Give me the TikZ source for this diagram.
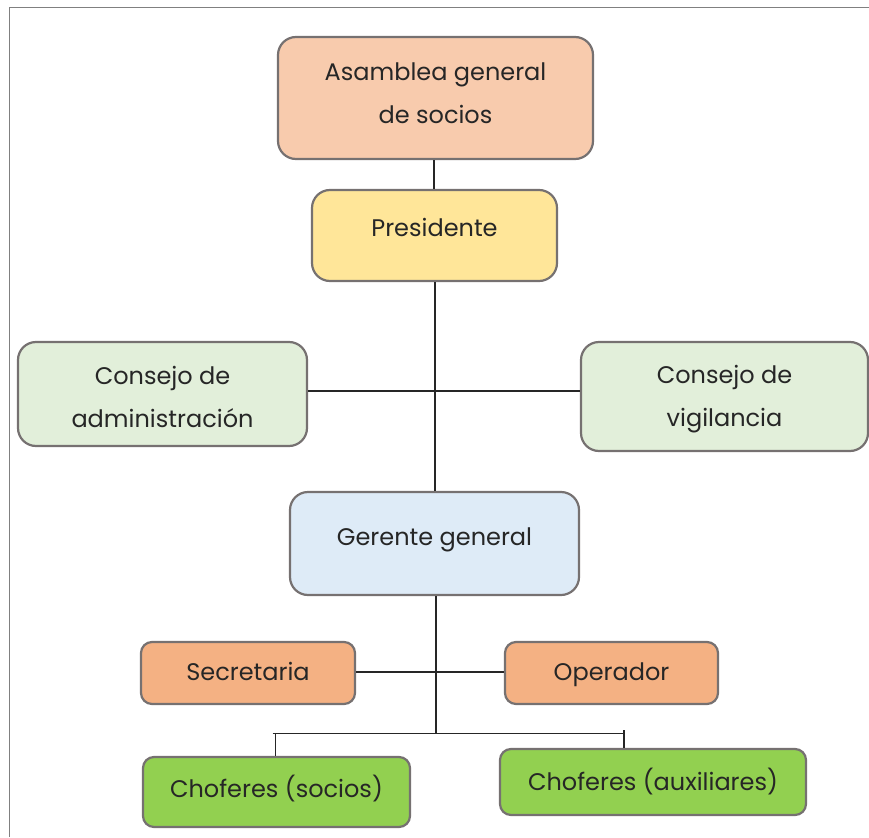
\documentclass[tikz,border=0pt]{standalone}
\usepackage{fontspec}
\setmainfont{Poppins}
\definecolor{bordergray}{HTML}{767171}
\definecolor{framegray}{HTML}{808080}
\definecolor{cPeach}{HTML}{F8CBAD}
\definecolor{cYellow}{HTML}{FFE699}
\definecolor{cPaleGreen}{HTML}{E2EFDA}
\definecolor{cPaleBlue}{HTML}{DEEBF7}
\definecolor{cOrange}{HTML}{F4B183}
\definecolor{cGreen}{HTML}{92D050}
\newcommand\boxtext[2]{\raisebox{#1}[\height][\depth]{\begin{tabular}{@{}c@{}}#2\end{tabular}}}
\tikzset{
  orgbox/.style={draw=bordergray, line width=2.2pt, rounded corners=18pt,
    align=center, inner sep=0pt, font=\fontsize{24pt}{43pt}\selectfont, text=black!85},
  smallbox/.style={orgbox, rounded corners=11pt},
  link/.style={draw=black!85, line width=1.6pt}
}
\begin{document}
\begin{tikzpicture}[x=1pt,y=-1pt]
\useasboundingbox (0,0) rectangle (869,837);
\draw[framegray, line width=1.6pt] (9.5,837) -- (9.5,7.5) -- (869,7.5);
% boxes
\node[orgbox, fill=cPeach, minimum width=315pt, minimum height=122pt] (asam) at (435.5,98) {\boxtext{5pt}{Asamblea general\\de socios}};
\node[orgbox, fill=cYellow, minimum width=245pt, minimum height=91pt] (pres) at (434.5,235.5) {\boxtext{8pt}{Presidente}};
\node[orgbox, fill=cPaleGreen, minimum width=289pt, minimum height=104pt] (cadm) at (162.5,394) {\boxtext{-3pt}{Consejo de\\administración}};
\node[orgbox, fill=cPaleGreen, minimum width=287pt, minimum height=109pt] (cvig) at (724.5,396.5) {\boxtext{0pt}{Consejo de\\vigilancia}};
\node[orgbox, fill=cPaleBlue, minimum width=289pt, minimum height=103pt] (ger) at (434.5,543.5) {\boxtext{7pt}{Gerente general}};
\node[smallbox, fill=cOrange, minimum width=214pt, minimum height=62pt] (sec) at (248,673) {\boxtext{1pt}{Secretaria}};
\node[smallbox, fill=cOrange, minimum width=213pt, minimum height=62pt] (ope) at (611.5,673) {\boxtext{1pt}{Operador}};
\node[smallbox, fill=cGreen, minimum width=267pt, minimum height=70pt] (chs) at (276.5,792) {\boxtext{3pt}{Choferes (socios)}};
\node[smallbox, fill=cGreen, minimum width=306pt, minimum height=66pt] (cha) at (653,782) {\boxtext{0pt}{Choferes (auxiliares)}};
% connectors
\coordinate (j1) at (435,391);
\coordinate (j2) at (436,733);
\draw[link] (asam.south -| 434,0) -- (pres.north -| 434,0);
\draw[link] (pres.south -| j1) -- (ger.north -| j1);
\draw[link] (cadm.east |- j1) -- (cvig.west |- j1);
\draw[link] (ger.south -| j2) -- (j2);
\draw[link] (sec.east |- 0,672) -- (ope.west |- 0,672);
\coordinate (tl) at (272.5,733.5);
\coordinate (tr) at (624,733.5);
\draw[link] (tl) -- (tr);
\draw[link] (275.5,733.5) -- (chs.north -| 275.5,0);
\draw[link] (624,730) -- (cha.north -| 624,0);
\end{tikzpicture}
\end{document}
